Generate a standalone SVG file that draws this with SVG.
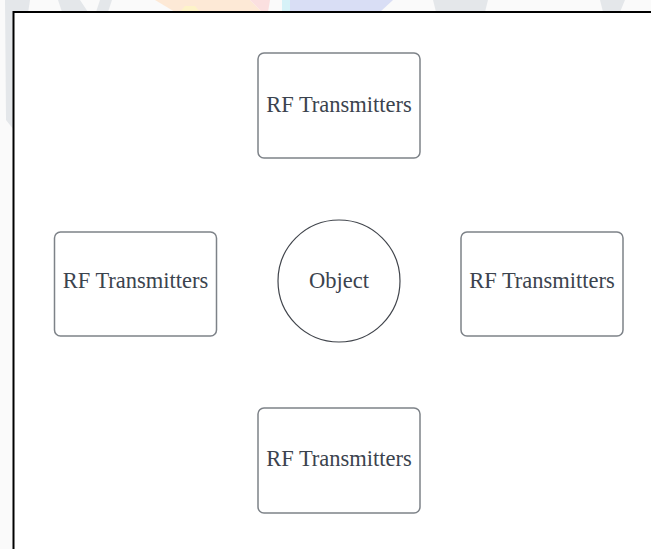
<svg xmlns="http://www.w3.org/2000/svg" width="651" height="549" viewBox="0 0 651 549">
  <style>
    .box { fill: #ffffff; stroke: #7d8288; stroke-width: 1.5; }
    .obj { fill: #ffffff; stroke: #41454c; stroke-width: 1.2; }
    .lbl { font-family: "Liberation Serif", "Times New Roman", serif; font-size: 22.5px; fill: #3b434e; text-anchor: middle; }
    .wm-gray { fill: #e4e7ea; }
  </style>
  <rect x="0" y="0" width="651" height="549" fill="#fafafa"/>
  <g id="watermark">
    <path class="wm-gray" d="M5 0 L30 0 L24 40 L14 130 L6 120 Z"/>
    <path class="wm-gray" d="M58 0 L80 0 L88 12 L62 12 Z"/>
    <path class="wm-gray" d="M100 0 L112 0 L108 12 L96 12 Z"/>
    <path fill="#fde9d6" d="M155 0 L250 0 L262 12 L175 12 Z"/>
    <path fill="#fbe0e0" d="M250 0 L270 0 L268 12 L262 12 Z"/>
    <path fill="#fdf3c8" d="M185 6 L195 6 L200 12 L180 12 Z"/>
    <path fill="#d9def5" d="M282 0 L393 0 L380 12 L290 12 Z"/>
    <path fill="#d6f2f8" d="M282 0 L290 0 L290 12 L282 12 Z"/>
    <path class="wm-gray" d="M433 0 L488 0 L485 12 L436 12 Z"/>
    <path class="wm-gray" d="M600 0 L625 0 L620 12 L603 12 Z"/>
  </g>
  <rect id="frame" x="13.5" y="12" width="660" height="560" fill="#ffffff" stroke="#000000" stroke-width="2"/>
  <g id="connectors"></g>
  <g id="tx-top">
    <rect class="box" x="258" y="53" width="162" height="105" rx="6"/>
    <text class="lbl" x="339" y="112">RF Transmitters</text>
  </g>
  <g id="tx-left">
    <rect class="box" x="54.5" y="232" width="162" height="104" rx="6"/>
    <text class="lbl" x="135.5" y="288">RF Transmitters</text>
  </g>
  <g id="object">
    <circle class="obj" cx="339" cy="281" r="61"/>
    <text class="lbl" x="339" y="288">Object</text>
  </g>
  <g id="tx-right">
    <rect class="box" x="461" y="232" width="162" height="104" rx="6"/>
    <text class="lbl" x="542" y="288">RF Transmitters</text>
  </g>
  <g id="tx-bottom">
    <rect class="box" x="258" y="408" width="162" height="105" rx="6"/>
    <text class="lbl" x="339" y="466">RF Transmitters</text>
  </g>
</svg>
